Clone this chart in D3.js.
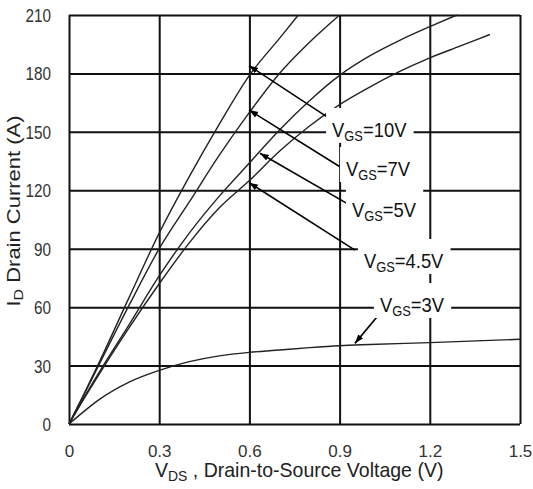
<!DOCTYPE html>
<html>
<head>
<meta charset="utf-8">
<script src="https://cdn.jsdelivr.net/npm/d3@7"></script>
<style>
  body { margin: 0; background: #fff; }
  svg { display: block; font-family: "Liberation Sans", Arial, sans-serif; }
</style>
</head>
<body>
<div class="svg-container"></div>
<script>
// axis ticks
const xTicks = [0, 0.3, 0.6, 0.9, 1.2, 1.5];
const yTicks = [0, 30, 60, 90, 120, 150, 180, 210];

// ID (A) vs VDS (V)
const vgs10 = [[0,0],[0.05,15.5],[0.1,31.5],[0.2,65],[0.3,98],[0.4,127],[0.5,154],[0.6,179],[0.7,198],[0.763,210]];
const vgs7  = [[0,0],[0.05,15],[0.1,30.5],[0.2,61],[0.3,90],[0.4,114],[0.5,138],[0.6,160],[0.7,180],[0.8,196],[0.9,210]];
const vgs5  = [[0,0],[0.05,13.5],[0.1,26.5],[0.2,51],[0.3,76],[0.4,98],[0.5,117],[0.6,134],[0.7,151],[0.8,166],[0.9,179],[1.0,189],[1.1,197],[1.2,204],[1.29,210]];
const vgs45 = [[0,0],[0.05,13],[0.1,25.5],[0.2,49.5],[0.3,72],[0.4,93],[0.5,111],[0.6,125],[0.7,140],[0.8,153],[0.9,164],[1.0,173],[1.1,181],[1.2,188],[1.3,194],[1.4,200]];
const vgs3  = [[0,0],[0.05,6.5],[0.1,12.5],[0.2,21.5],[0.3,27.5],[0.4,32],[0.5,35],[0.6,36.8],[0.7,38],[0.8,39.2],[0.9,40.2],[1.0,40.8],[1.2,41.8],[1.5,43.5]];
const seriesList = [vgs10, vgs7, vgs5, vgs45, vgs3];

// annotation labels (data coords: text start / baseline, arrow tail, arrow tip)
const labelNames = ["10V", "7V", "5V", "4.5V", "3V"];
const labelAt    = [[0.875,147.4],[0.921,127.3],[0.941,106.3],[0.981,80.1],[1.034,57.5]];
const arrowTail  = [[0.857,157.8],[0.901,132.1],[0.924,113.3],[0.951,89.3],[1.029,55.8]];
const arrowTip   = [[0.599,184],[0.599,161.2],[0.635,139],[0.599,123.9],[0.951,41.4]];

let width = 533;
let height = 489;
let svg = d3.select(".svg-container").append("svg")
    .attr("width", width).attr("height", height);

let x = d3.scaleLinear().domain([0, 1.5]).range([69, 520]);
let y = d3.scaleLinear().domain([0, 210]).range([424, 15]);

// grid + ticks
let gx = svg.append("g").attr("transform", "translate(0,424)")
    .call(d3.axisBottom(x).tickValues(xTicks).tickSize(-409)
        .tickFormat(d => d === 0 ? "0" : d3.format(".1f")(d)));
gx.select(".domain").remove();
gx.selectAll("line").attr("stroke", "#111").attr("stroke-width", 2);
gx.selectAll("text").attr("y", 33).attr("dy", 0)
    .attr("font-size", 17).attr("fill", "#333")
    .attr("font-family", "Liberation Sans, Arial, sans-serif");

let gy = svg.append("g").attr("transform", "translate(69,0)")
    .call(d3.axisLeft(y).tickValues(yTicks).tickSize(-451));
gy.select(".domain").remove();
gy.selectAll("line").attr("stroke", "#111").attr("stroke-width", 2);
gy.selectAll("text").attr("x", -18 / 0.85).attr("dy", "0.36em")
    .attr("transform", "scale(0.85,1)")
    .attr("font-size", 18).attr("fill", "#333")
    .attr("font-family", "Liberation Sans, Arial, sans-serif");

// curves
let line = d3.line().x(d => x(d[0])).y(d => y(d[1])).curve(d3.curveMonotoneX);
svg.append("g").selectAll("path").data(seriesList).enter().append("path")
    .attr("d", line).attr("fill", "none")
    .attr("stroke", "#222").attr("stroke-width", 1.4);

// arrows
svg.append("defs").append("marker")
    .attr("id", "head").attr("markerUnits", "userSpaceOnUse")
    .attr("viewBox", "0 -4 9 8").attr("refX", 9).attr("refY", 0)
    .attr("markerWidth", 9).attr("markerHeight", 8).attr("orient", "auto")
    .append("path").attr("d", "M0,-3.2L9,0L0,3.2Z").attr("fill", "#000");

svg.append("g").selectAll("line").data(labelNames).enter().append("line")
    .attr("x1", (d, i) => x(arrowTail[i][0])).attr("y1", (d, i) => y(arrowTail[i][1]))
    .attr("x2", (d, i) => x(arrowTip[i][0])).attr("y2", (d, i) => y(arrowTip[i][1]))
    .attr("stroke", "#000").attr("stroke-width", 1.6)
    .attr("marker-end", "url(#head)");

// labels with white boxes behind
let lab = svg.append("g").selectAll("g").data(labelNames).enter().append("g")
    .attr("transform", (d, i) => "translate(" + x(labelAt[i][0]) + "," + y(labelAt[i][1]) + ") scale(0.92,1)");
lab.append("rect").attr("fill", "#fff");
let txt = lab.append("text").attr("font-size", 20).attr("fill", "#111");
txt.append("tspan").text("V");
txt.append("tspan").attr("font-size", 14).attr("dy", 4).text("GS");
txt.append("tspan").attr("dy", -4).text(d => "=" + d);
lab.each(function () {
    let g = d3.select(this);
    let bb = g.select("text").node().getBBox();
    g.select("rect")
        .attr("x", bb.x - 6 / 0.92).attr("y", -29)
        .attr("width", bb.width + 13 / 0.92).attr("height", 35);
});

// axis titles
svg.append("text")
    .attr("transform", "translate(20,211) scale(0.85,1) rotate(-90)")
    .attr("text-anchor", "middle").attr("font-size", 22).attr("fill", "#222")
    .call(t => {
        t.append("tspan").text("I");
        t.append("tspan").attr("font-size", 16).attr("dy", 3).text("D");
        t.append("tspan").attr("dy", -3).text(" Drain Current (A)");
    });

svg.append("text")
    .attr("transform", "translate(155,477) scale(0.93,1)")
    .attr("font-size", 21).attr("fill", "#222")
    .call(t => {
        t.append("tspan").text("V");
        t.append("tspan").attr("font-size", 15).attr("dy", 4).text("DS");
        t.append("tspan").attr("dy", -4).text(" , Drain-to-Source Voltage (V)");
    });
</script>
</body>
</html>
